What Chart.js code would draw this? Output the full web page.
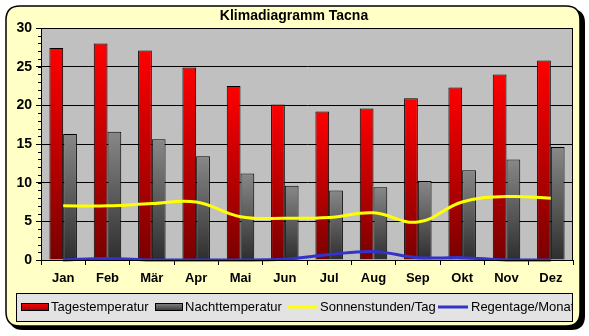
<!DOCTYPE html>
<html>
<head>
<meta charset="utf-8">
<script src="https://cdn.jsdelivr.net/npm/chart.js@4/dist/chart.umd.min.js"></script>
<style>
	html, body { margin: 0; padding: 0; background: #ffffff; }
	#wrap { width: 589px; height: 336px; position: relative; }
</style>
</head>
<body>
<div id="wrap"><canvas id="klima" width="589" height="336"></canvas></div>
<script>
const months = ["Jan", "Feb", "Mär", "Apr", "Mai", "Jun", "Jul", "Aug", "Sep", "Okt", "Nov", "Dez"];
const tagesTemp = [27.4, 28.0, 27.1, 24.9, 22.5, 20.1, 19.2, 19.6, 20.9, 22.3, 24.0, 25.8];
const nachtTemp = [16.3, 16.6, 15.6, 13.4, 11.2, 9.6, 9.0, 9.4, 10.2, 11.6, 13.0, 14.6];
const sonnenstunden = [7.0, 7.0, 7.3, 7.5, 5.6, 5.4, 5.5, 6.1, 4.9, 7.5, 8.2, 8.0];
const regentage = [0.0, 0.2, 0.0, 0.0, 0.0, 0.1, 0.7, 1.1, 0.3, 0.3, 0.0, 0.0];
const chartTitle = "Klimadiagramm Tacna";

// gradient running from the top of each bar down to the axis
function barGradient(ctx, top, bottom) {
	const chart = ctx.chart;
	if (!chart.chartArea || ctx.type !== "data") return top;
	const ys = chart.scales.y;
	const y0 = ys.getPixelForValue(ctx.raw);
	const y1 = ys.getPixelForValue(0);
	const g = chart.ctx.createLinearGradient(0, y0, 0, y1);
	g.addColorStop(0, top);
	g.addColorStop(1, bottom);
	return g;
}

function roundRect(c, x, y, w, h, r) {
	c.beginPath();
	c.moveTo(x + r, y);
	c.lineTo(x + w - r, y);
	c.quadraticCurveTo(x + w, y, x + w, y + r);
	c.lineTo(x + w, y + h - r);
	c.quadraticCurveTo(x + w, y + h, x + w - r, y + h);
	c.lineTo(x + r, y + h);
	c.quadraticCurveTo(x, y + h, x, y + h - r);
	c.lineTo(x, y + r);
	c.quadraticCurveTo(x, y, x + r, y);
	c.closePath();
}

// frame, title, plot background, minor ticks and legend box
const framePlugin = {
	id: "frame",
	beforeDraw(chart) {
		const c = chart.ctx;
		const a = chart.chartArea;
		c.save();
		// shadow
		c.fillStyle = "#000000";
		roundRect(c, 9, 9, 576, 321, 14);
		c.fill();
		c.fillStyle = "#FFFFC6";
		c.strokeStyle = "#000000";
		c.lineWidth = 1.5;
		roundRect(c, 6, 6, 574, 320, 14);
		c.fill();
		c.stroke();
		// title
		c.fillStyle = "#000000";
		c.font = "bold 14px Arial, 'Liberation Sans', sans-serif";
		c.textAlign = "center";
		c.textBaseline = "middle";
		c.fillText(chartTitle, 294, 16);
		// plot area
		c.fillStyle = "#C0C0C0";
		c.fillRect(a.left, a.top, a.right - a.left, a.bottom - a.top);
		c.restore();
	},
	afterDraw(chart) {
		const c = chart.ctx;
		const a = chart.chartArea;
		const y = chart.scales.y;
		c.save();
		c.strokeStyle = "#000000";
		c.lineWidth = 1;
		c.strokeRect(a.left + 0.5, a.top + 0.5, a.right - a.left - 1, a.bottom - a.top);
		// minor ticks
		c.beginPath();
		for (let v = 0; v <= 30; v++) {
			const py = Math.round(y.getPixelForValue(v)) + 0.5;
			c.moveTo(a.left - 3, py);
			c.lineTo(a.left, py);
		}
		c.stroke();

		// legend
		const lx = 16, ly = 293, lw = 556, lh = 28;
		c.fillStyle = "#E3E3E3";
		c.fillRect(lx, ly, lw, lh);
		c.strokeStyle = "#000000";
		c.strokeRect(lx + 0.5, ly + 0.5, lw, lh);
		c.beginPath();
		c.rect(lx, ly, lw, lh);
		c.clip();
		c.font = "13px Arial, 'Liberation Sans', sans-serif";
		c.textAlign = "left";
		c.textBaseline = "middle";
		const swatch = [
			{ kind: "bar", top: "#FF0000", bottom: "#990000", w: 27 },
			{ kind: "bar", top: "#888888", bottom: "#333333", w: 27 },
			{ kind: "line", color: "#FFFF00", w: 30 },
			{ kind: "line", color: "#3333CC", w: 30 }
		];
		const starts = [21, 155, 287, 438];
		const cy = ly + 14;
		chart.data.datasets.forEach((ds, i) => {
			const s = swatch[i];
			const x = starts[i];
			if (s.kind === "bar") {
				const g = c.createLinearGradient(0, cy - 4, 0, cy + 4);
				g.addColorStop(0, s.top);
				g.addColorStop(1, s.bottom);
				c.fillStyle = g;
				c.fillRect(x, cy - 4, s.w, 8);
				c.strokeRect(x + 0.5, cy - 3.5, s.w, 7);
			} else {
				c.strokeStyle = s.color;
				c.lineWidth = 3;
				c.beginPath();
				c.moveTo(x, cy);
				c.lineTo(x + s.w, cy);
				c.stroke();
				c.strokeStyle = "#000000";
				c.lineWidth = 1;
			}
			c.fillStyle = "#000000";
			c.fillText(ds.label, x + s.w + 3, cy);
		});
		c.restore();
	}
};

new Chart(document.getElementById("klima"), {
	data: {
		labels: months,
		datasets: [{
			type: "bar",
			label: "Tagestemperatur",
			data: tagesTemp,
			backgroundColor: ctx => barGradient(ctx, "#FF0000", "#7A0000"),
			borderColor: "#000000",
			borderWidth: 1,
			order: 3
		},
		{
			type: "bar",
			label: "Nachttemperatur",
			data: nachtTemp,
			backgroundColor: ctx => barGradient(ctx, "#888888", "#2E2E2E"),
			borderColor: "#000000",
			borderWidth: 1,
			order: 4
		},
		{
			type: "line",
			label: "Sonnenstunden/Tag",
			data: sonnenstunden,
			borderColor: "#FFFF00",
			borderWidth: 3,
			pointRadius: 0,
			tension: 0.4,
			clip: false,
			order: 1
		},
		{
			type: "line",
			label: "Regentage/Monat",
			data: regentage,
			borderColor: "#3333CC",
			borderWidth: 3,
			pointRadius: 0,
			tension: 0.4,
			clip: false,
			order: 2
		}]
	},
	options: {
		responsive: false,
		animation: false,
		layout: { padding: { left: 0, top: 28, right: 16, bottom: 0 } },
		datasets: {
			bar: { categoryPercentage: 0.62, barPercentage: 1.0 }
		},
		plugins: {
			legend: { display: false },
			title: { display: false },
			tooltip: { enabled: false }
		},
		scales: {
			x: {
				offset: true,
				afterFit: s => { s.height = 76; },
				border: { color: "#000000", width: 1 },
				grid: {
					offset: true,
					drawOnChartArea: false,
					color: "#000000",
					tickLength: 5
				},
				ticks: {
					color: "#000000",
					padding: 6,
					font: { family: "Arial, 'Liberation Sans', sans-serif", size: 13, weight: "bold" }
				}
			},
			y: {
				min: 0,
				max: 30,
				afterFit: s => { s.width = 41; },
				border: { color: "#000000", width: 1 },
				grid: {
					color: "#000000",
					tickLength: 5
				},
				ticks: {
					stepSize: 5,
					color: "#000000",
					padding: 4,
					font: { family: "Arial, 'Liberation Sans', sans-serif", size: 14, weight: "bold" }
				}
			}
		}
	},
	plugins: [framePlugin]
});
</script>
</body>
</html>
